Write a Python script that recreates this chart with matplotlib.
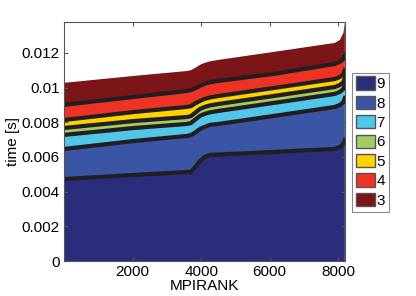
import numpy as np
import matplotlib.pyplot as plt
from matplotlib.patches import Patch

plt.rcParams['font.family'] = ['Liberation Sans', 'DejaVu Sans']

ranks = np.array([1, 2048, 3584, 3700, 3850, 3970, 4100, 4260, 4500, 6144, 7900, 8050, 8150, 8192])

# time per layer [s], bottom (9) to top (3)
t9 = np.array([0.00473, 0.00496, 0.00513, 0.00513, 0.00548, 0.00577, 0.00600, 0.00612, 0.00614, 0.00629, 0.00646, 0.00658, 0.00675, 0.00698])
t8 = np.array([0.00173, 0.00196, 0.00208, 0.00213, 0.00196, 0.00185, 0.00173, 0.00173, 0.00176, 0.00208, 0.00242, 0.00242, 0.00242, 0.00242])
t7 = np.array([0.00081, 0.00075, 0.00069, 0.00069, 0.00075, 0.00075, 0.00075, 0.00072, 0.00075, 0.00075, 0.00075, 0.00075, 0.00075, 0.00075])
t6 = np.array([0.00040, 0.00040, 0.00040, 0.00040, 0.00040, 0.00040, 0.00040, 0.00040, 0.00040, 0.00040, 0.00040, 0.00040, 0.00040, 0.00040])
t5 = np.array([0.00046, 0.00052, 0.00058, 0.00058, 0.00052, 0.00046, 0.00046, 0.00046, 0.00046, 0.00046, 0.00046, 0.00046, 0.00046, 0.00046])
t4 = np.array([0.00087, 0.00087, 0.00092, 0.00092, 0.00087, 0.00087, 0.00087, 0.00087, 0.00087, 0.00081, 0.00087, 0.00087, 0.00087, 0.00087])
t3 = np.array([0.00127, 0.00121, 0.00115, 0.00115, 0.00118, 0.00121, 0.00121, 0.00121, 0.00121, 0.00127, 0.00121, 0.00127, 0.00150, 0.00190])

labels = ['9', '8', '7', '6', '5', '4', '3']
colors = ['#2a2d7c', '#3a55a6', '#50c6e8', '#a3cd62', '#ffd200', '#ee3325', '#7c1518']
layers = [t9, t8, t7, t6, t5, t4, t3]

fig = plt.figure(figsize=(4.16, 2.96), dpi=100)
ax = fig.add_axes([0.154, 0.118, 0.675, 0.808])

ax.stackplot(ranks, *layers, colors=colors, linewidth=0)
cum = np.cumsum(layers, axis=0)
for c in cum[:-1]:
    ax.plot(ranks, c, color='#231f20', lw=3)

ax.set_xlim(1, 8192)
ax.set_ylim(0, cum[-1].max())
ax.set_xticks([2000, 4000, 6000, 8000])
ax.set_yticks([0, 0.002, 0.004, 0.006, 0.008, 0.01, 0.012])
ax.set_yticklabels(['0', '0.002', '0.004', '0.006', '0.008', '0.01', '0.012'])
ax.tick_params(direction='in', top=True, right=True, labelsize=11, length=3, color='#555555', pad=3)
for s in ax.spines.values():
    s.set_color('#555555')
    s.set_linewidth(0.8)
ax.set_xlabel('MPIRANK', fontsize=11, labelpad=0)
ax.set_ylabel('time [s]', fontsize=11, labelpad=1)

handles = [Patch(facecolor=c, edgecolor='#555555', label=l) for c, l in zip(colors, labels)]
leg = fig.legend(handles=handles, loc='upper left', bbox_to_anchor=(0.846, 0.755),
                 fontsize=11, fancybox=False, edgecolor='#888888', framealpha=1,
                 handlelength=1.25, handleheight=0.95, labelspacing=0.3,
                 handletextpad=0.12, borderpad=0.25, borderaxespad=0)
leg.get_frame().set_linewidth(0.8)

fig.savefig('out.png', dpi=100)
